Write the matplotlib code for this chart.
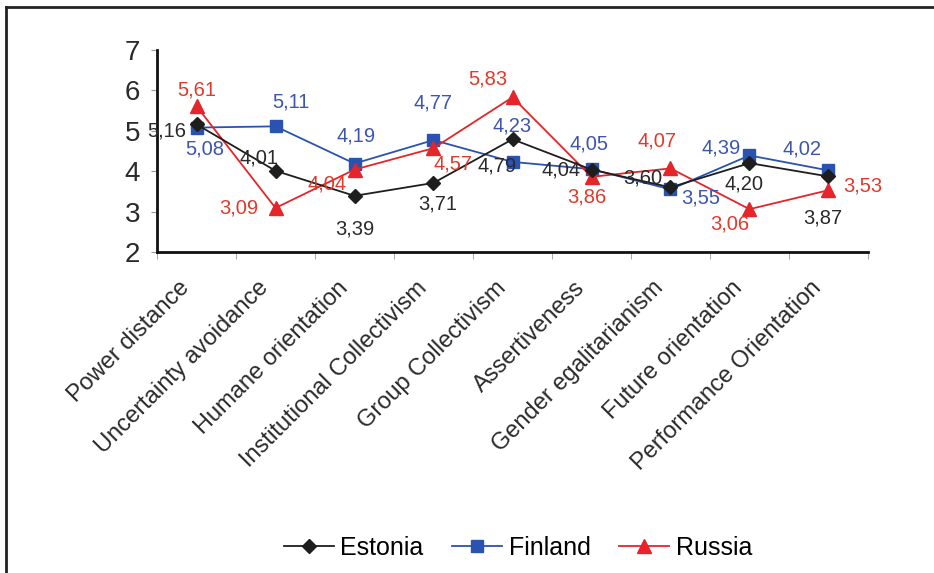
import matplotlib
matplotlib.use("Agg")
import matplotlib.pyplot as plt
from matplotlib.lines import Line2D
from matplotlib.transforms import ScaledTranslation

plt.rcParams['font.family'] = ['Liberation Sans', 'DejaVu Sans']

categories = ["Power distance", "Uncertainty avoidance", "Humane orientation",
              "Institutional Collectivism", "Group Collectivism", "Assertiveness",
              "Gender egalitarianism", "Future orientation", "Performance Orientation"]
estonia = [5.16, 4.01, 3.39, 3.71, 4.79, 4.04, 3.60, 4.20, 3.87]
finland = [5.08, 5.11, 4.19, 4.77, 4.23, 4.05, 3.55, 4.39, 4.02]
russia = [5.61, 3.09, 4.04, 4.57, 5.83, 3.86, 4.07, 3.06, 3.53]

# label offsets in pixels (dx, dy), dy positive = up
est_off = [(-30, -7), (-17, 13), (0, -33), (4, -21), (-15, -27), (-30, 0), (-28, 9), (-5, -21), (-6, -42)]
fin_off = [(8, -21), (15, 24), (2, 28), (0, 37), (0, 36), (-2, 25), (30, -9), (-28, 7), (-26, 21)]
rus_off = [(0, 16), (-37, 0), (-27, -14), (20, -16), (-25, 18), (-5, -20), (-13, 27), (-20, -15), (34, 4)]

c_est = "#1e1e1e"
c_fin = "#2a52b0"
c_rus = "#e5252a"
c_fin_txt = "#3d55b0"
c_rus_txt = "#e03a2c"

fig = plt.figure(figsize=(9.34, 5.73), dpi=100)
ax = fig.add_axes([157/934, 1-252/573, 711/934, 202/573])

x = range(len(categories))
ax.plot(x, estonia, color=c_est, lw=1.3, marker="D", ms=7, label="Estonia", zorder=3)
ax.plot(x, finland, color=c_fin, lw=1.3, marker="s", ms=9, label="Finland", zorder=2)
ax.plot(x, russia, color=c_rus, lw=1.3, marker="^", ms=10, label="Russia", zorder=2)

def lab(vals, offs, col):
    for i, (v, o) in enumerate(zip(vals, offs)):
        ax.annotate(f"{v:.2f}".replace(".", ","), (i, v), xytext=o,
                    textcoords="offset pixels", ha="center", va="center",
                    fontsize=14.5, color=col, zorder=5)

lab(estonia, est_off, "#2a2a2a")
lab(finland, fin_off, c_fin_txt)
lab(russia, rus_off, c_rus_txt)

ax.set_xlim(-0.5, len(categories) - 0.5)
ax.set_ylim(2, 7)
ax.set_yticks([2, 3, 4, 5, 6, 7])
ax.set_yticklabels(["2", "3", "4", "5", "6", "7"], fontsize=20, color="#2a2a2a")
ax.tick_params(axis="y", length=4, color="#999999", pad=8)

ax.set_xticks([i + 0.5 for i in range(-1, len(categories))], minor=True)
ax.set_xticks(list(x))
ax.set_xticklabels(categories, rotation=45, ha="right", va="top",
                   rotation_mode="anchor", fontsize=17, color="#2a2a2a")
ax.tick_params(axis="x", which="major", length=0, pad=18)
ax.tick_params(axis="x", which="minor", length=5, color="#999999")
shift = ScaledTranslation(-18/100, 0, fig.dpi_scale_trans)
for t in ax.get_xticklabels():
    t.set_transform(t.get_transform() + shift)

for s in ["top", "right"]:
    ax.spines[s].set_visible(False)
for s in ["left", "bottom"]:
    ax.spines[s].set_linewidth(2)
    ax.spines[s].set_color("#111111")

fig.legend(loc="center", bbox_to_anchor=(518/934, 1-548/573), ncol=3,
           frameon=False, fontsize=18, handlelength=2.0, columnspacing=1.15,
           handletextpad=0.25)

fig.add_artist(Line2D([6/934, 6/934], [0, 1-7/573], color="#222222", lw=2))
fig.add_artist(Line2D([6/934, 1], [1-7/573, 1-7/573], color="#222222", lw=2))

fig.savefig("out.png", dpi=100)
